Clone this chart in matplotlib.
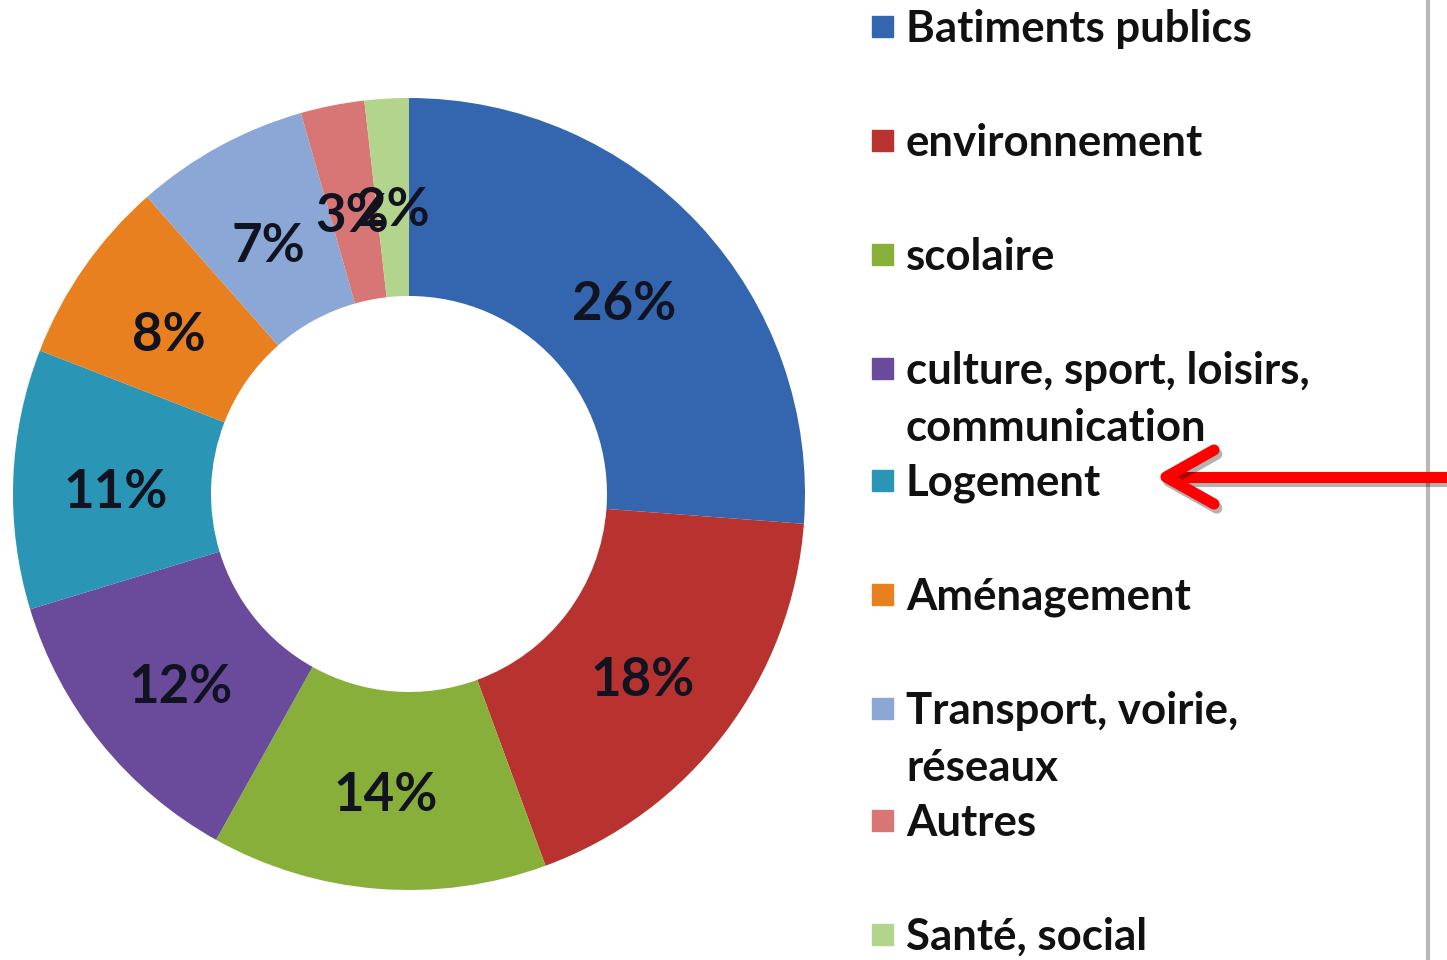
import matplotlib.pyplot as plt
import matplotlib.patheffects as pe
from matplotlib.patches import Rectangle

# Data (shares, labels are rounded)
categories = [
    'Batiments publics',
    'environnement',
    'scolaire',
    'culture, sport, loisirs,\ncommunication',
    'Logement',
    'Aménagement',
    'Transport, voirie,\nréseaux',
    'Autres',
    'Santé, social',
]
shares = [26.2, 18.2, 13.7, 12.2, 10.6, 7.6, 7.1, 2.6, 1.8]
colors = ['#3466b0', '#b83230', '#88af3a', '#6a4a9b', '#2b95b5',
          '#e8801f', '#8aa7d6', '#d87676', '#b3d48c']

W, H = 1447, 960
fig = plt.figure(figsize=(W / 100, H / 100), dpi=100)
font = 'Lato'

# Donut: centre (409, 494) px, outer radius 396 px
cx, cy, r = 409, 494, 396
ax = fig.add_axes([(cx - r) / W, (H - cy - r) / H, 2 * r / W, 2 * r / H])
wedges, texts, autotexts = ax.pie(
    shares, colors=colors, startangle=90, counterclock=False,
    radius=1, wedgeprops=dict(width=0.5, linewidth=0),
    autopct=lambda p: f'{p:.0f}%', pctdistance=0.74,
)
for t in autotexts:
    t.set_fontfamily(font)
    t.set_fontweight('bold')
    t.set_fontsize(38)
    t.set_color('#111420')
    x, y = t.get_position()
    t.set_position((x, y - 0.024))  # digits sit a bit lower in the original
ax.set_xlim(-1, 1)
ax.set_ylim(-1, 1)
ax.set_aspect('equal')
ax.axis('off')

# Legend drawn by hand (labels, squares)
legend_y = [29, 143, 257, 371, 483, 597, 711, 823, 937]
line_gap = 57
for label, col, y in zip(categories, colors, legend_y):
    fig.patches.append(Rectangle((872 / W, 1 - (y + 8) / H), 21 / W, 21 / H,
                                 transform=fig.transFigure, color=col))
    for k, line in enumerate(label.split('\n')):
        fig.text(906 / W, 1 - (y + k * line_gap) / H, line, fontfamily=font,
                 fontweight='bold', fontsize=31.5, color='#111111',
                 ha='left', va='center')

# Right border line
fig.add_artist(plt.Line2D([1428 / W, 1428 / W], [0, 1], color='#b8b8b8', lw=3))

# Red arrow pointing at "Logement"
shadow = [pe.SimpleLineShadow(offset=(2, -3), alpha=0.3), pe.Normal()]
fig.add_artist(plt.Line2D([1447 / W, 1172 / W], [1 - 477 / H, 1 - 477 / H],
                          color='#ff0000', lw=8, solid_capstyle='round',
                          path_effects=shadow))
fig.add_artist(plt.Line2D([1214 / W, 1166 / W, 1214 / W],
                          [1 - 450 / H, 1 - 477 / H, 1 - 504 / H],
                          color='#ff0000', lw=8, solid_capstyle='round',
                          solid_joinstyle='round', path_effects=shadow))

fig.savefig('out.png', dpi=100)
